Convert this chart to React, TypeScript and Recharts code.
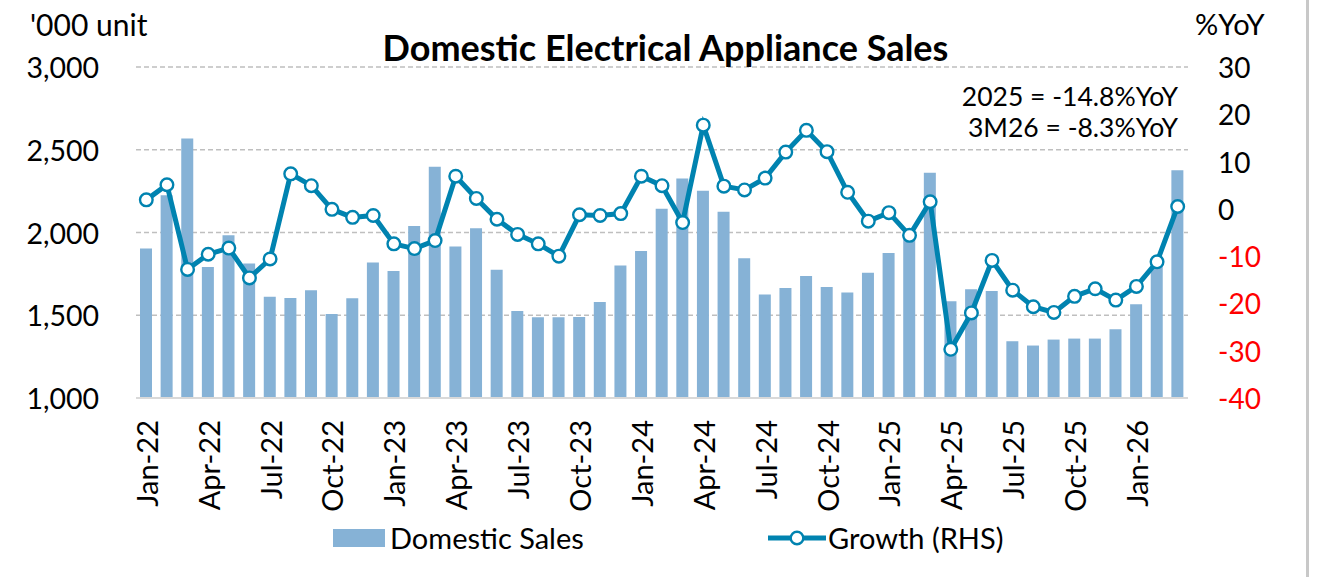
import React from 'react';
import { ComposedChart, Bar, Line, XAxis, YAxis, CartesianGrid } from 'recharts';

const months: string[] = [
  'Jan-22','Feb-22','Mar-22','Apr-22','May-22','Jun-22','Jul-22','Aug-22','Sep-22','Oct-22','Nov-22','Dec-22',
  'Jan-23','Feb-23','Mar-23','Apr-23','May-23','Jun-23','Jul-23','Aug-23','Sep-23','Oct-23','Nov-23','Dec-23',
  'Jan-24','Feb-24','Mar-24','Apr-24','May-24','Jun-24','Jul-24','Aug-24','Sep-24','Oct-24','Nov-24','Dec-24',
  'Jan-25','Feb-25','Mar-25','Apr-25','May-25','Jun-25','Jul-25','Aug-25','Sep-25','Oct-25','Nov-25','Dec-25',
  'Jan-26','Feb-26','Mar-26',
];

const domesticSales: number[] = [
  1904, 2225, 2568, 1791, 1984, 1813, 1612, 1604, 1651, 1508, 1602, 1819,
  1767, 2040, 2398, 1916, 2026, 1775, 1526, 1488, 1488, 1490, 1580, 1801,
  1888, 2143, 2327, 2253, 2125, 1845, 1625, 1665, 1737, 1671, 1637, 1757,
  1876, 1990, 2361, 1584, 1657, 1647, 1343, 1317, 1353, 1359, 1359, 1416,
  1566, 1820, 2376,
];

const growthYoY: number[] = [
  1.9, 5.1, -12.8, -9.6, -8.3, -14.6, -10.6, 7.4, 4.9, -0.1, -1.8, -1.4,
  -7.4, -8.4, -6.7, 6.9, 2.2, -2.2, -5.4, -7.4, -10.0, -1.25, -1.4, -1.0,
  6.9, 4.9, -2.9, 17.7, 4.8, 4.0, 6.5, 12.0, 16.6, 12.1, 3.5, -2.6,
  -0.8, -5.6, 1.5, -29.7, -22.0, -10.9, -17.2, -20.7, -21.9, -18.5, -16.9, -19.3,
  -16.4, -11.2, 0.5,
];

const leftTicks: number[] = [1000, 1500, 2000, 2500, 3000];
const rightTicks: number[] = [-40, -30, -20, -10, 0, 10, 20, 30];

const title = 'Domestic Electrical Appliance Sales';
const leftUnit = "'000 unit";
const rightUnit = '%YoY';
const notes: string[] = ['2025 = -14.8%YoY', '3M26 = -8.3%YoY'];
const barName = 'Domestic Sales';
const lineName = 'Growth (RHS)';

const data = months.map((m, i) => ({ month: m, sales: domesticSales[i], growth: growthYoY[i] }));

const BAR_COLOR = '#86B2D6';
const LINE_COLOR = '#0083B0';
const FONT = 'Lato, "Open Sans", sans-serif';

const XTick = (props: any) => {
  const { x, y, payload } = props;
  return (
    <text
      x={x}
      y={y}
      transform={`rotate(-90 ${x} ${y})`}
      textAnchor="end"
      dominantBaseline="central"
      fontFamily={FONT}
      fontSize={29}
      fill="#000"
    >
      {payload.value}
    </text>
  );
};

const LeftTick = (props: any) => {
  const { x, y, payload } = props;
  return (
    <text x={x} y={y} textAnchor="end" dominantBaseline="central" fontFamily={FONT} fontSize={28.5} fill="#000">
      {Number(payload.value).toLocaleString('en-US')}
    </text>
  );
};

const RightTick = (props: any) => {
  const { x, y, payload } = props;
  const v = Number(payload.value);
  return (
    <text x={x} y={y} textAnchor="start" dominantBaseline="central" fontFamily={FONT} fontSize={28} fill={v < 0 ? '#FF0000' : '#000'}>
      {v}
    </text>
  );
};

export default function App() {
  return (
    <div style={{ position: 'absolute', left: 0, top: 0, width: 1321, height: 577, background: '#fff', fontFamily: FONT, overflow: 'hidden' }}>
      <ComposedChart width={1321} height={577} data={data} margin={{ top: 67, right: 0, bottom: 0, left: 0 }}>
        <CartesianGrid yAxisId="left" vertical={false} stroke="#BFBFBF" strokeDasharray="5 3" strokeWidth={1.5} />
        <XAxis
          dataKey="month"
          interval={2}
          height={179}
          tickSize={0}
          tickMargin={22}
          tickLine={false}
          axisLine={{ stroke: '#D9D9D9', strokeWidth: 2 }}
          tick={<XTick />}
        />
        <YAxis
          yAxisId="left"
          orientation="left"
          width={136}
          domain={[1000, 3000]}
          ticks={leftTicks}
          axisLine={false}
          tickLine={false}
          tickSize={0}
          tickMargin={37}
          tick={<LeftTick />}
        />
        <YAxis
          yAxisId="right"
          orientation="right"
          width={133}
          domain={[-40, 30]}
          ticks={rightTicks}
          axisLine={false}
          tickLine={false}
          tickSize={0}
          tickMargin={30}
          tick={<RightTick />}
        />
        <Bar yAxisId="left" dataKey="sales" fill={BAR_COLOR} barSize={12} isAnimationActive={false} />
        <Line
          yAxisId="right"
          dataKey="growth"
          type="linear"
          stroke={LINE_COLOR}
          strokeWidth={5}
          dot={{ r: 6.3, fill: '#fff', stroke: LINE_COLOR, strokeWidth: 2.4 }}
          isAnimationActive={false}
        />
      </ComposedChart>

      <div style={{ position: 'absolute', left: 30, top: 8, fontSize: 30, lineHeight: '32px', whiteSpace: 'nowrap' }}>{leftUnit}</div>
      <div style={{ position: 'absolute', left: 1195, top: 8, fontSize: 29, lineHeight: '32px', whiteSpace: 'nowrap' }}>{rightUnit}</div>
      <div style={{ position: 'absolute', left: 0, width: 1331, top: 27, textAlign: 'center', fontSize: 36, fontWeight: 700, lineHeight: '40px', whiteSpace: 'nowrap' }}>{title}</div>
      {notes.map((n, i) => (
        <div key={n} style={{ position: 'absolute', right: 1321 - 1178, top: 81 + i * 31, fontSize: 26.5, lineHeight: '31px', whiteSpace: 'nowrap', textAlign: 'right' }}>{n}</div>
      ))}

      <div style={{ position: 'absolute', left: 333, top: 529, width: 52, height: 18, background: BAR_COLOR }} />
      <div style={{ position: 'absolute', left: 390, top: 522, fontSize: 29, lineHeight: '32px', whiteSpace: 'nowrap' }}>{barName}</div>
      <svg style={{ position: 'absolute', left: 768, top: 528 }} width={58} height={20}>
        <line x1={0} y1={10} x2={58} y2={10} stroke={LINE_COLOR} strokeWidth={5} />
        <circle cx={29} cy={10} r={6.3} fill="#fff" stroke={LINE_COLOR} strokeWidth={2.4} />
      </svg>
      <div style={{ position: 'absolute', left: 828, top: 522, fontSize: 29, lineHeight: '32px', whiteSpace: 'nowrap' }}>{lineName}</div>

      <div style={{ position: 'absolute', left: 1306, top: 0, width: 3, height: 577, background: '#C8C8C8' }} />
    </div>
  );
}
